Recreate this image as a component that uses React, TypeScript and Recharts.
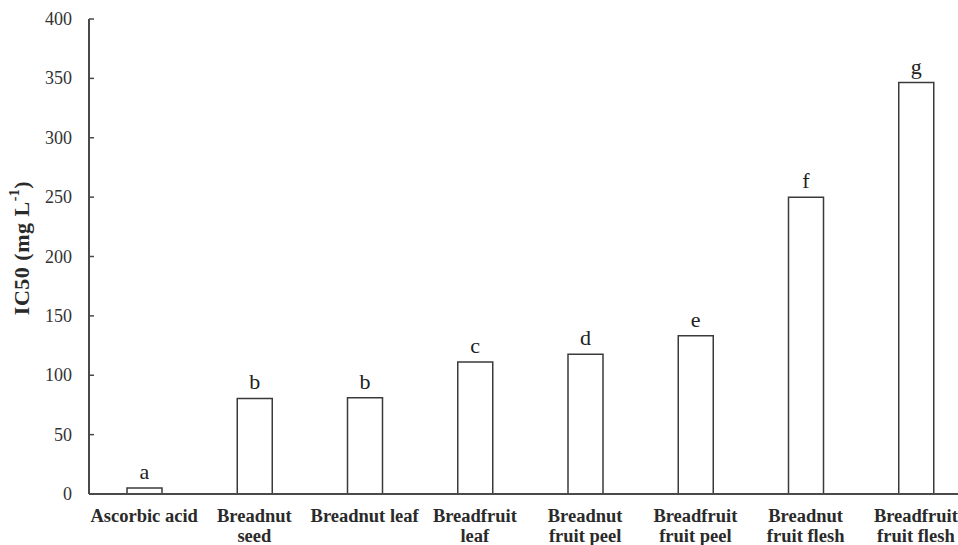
import React from "react";
import { BarChart, Bar, XAxis, YAxis, LabelList } from "recharts";

const categories = [
  "Ascorbic acid",
  "Breadnut\nseed",
  "Breadnut leaf",
  "Breadfruit\nleaf",
  "Breadnut\nfruit peel",
  "Breadfruit\nfruit peel",
  "Breadnut\nfruit flesh",
  "Breadfruit\nfruit flesh",
];
const ic50 = [5, 80.5, 81, 111.2, 117.6, 133.3, 250, 346.5];
const letters = ["a", "b", "b", "c", "d", "e", "f", "g"];
const yTicks = [0, 50, 100, 150, 200, 250, 300, 350, 400];

const data = categories.map((name, i) => ({
  name,
  value: ic50[i],
  letter: letters[i],
}));

const serif = "'Liberation Serif', 'Times New Roman', serif";
const axisColor = "#4a4a4a";

function XTick(props: any) {
  const { x, y, payload } = props;
  const lines = String(payload.value).split("\n");
  return (
    <text
      x={x}
      y={y}
      textAnchor="middle"
      fontFamily={serif}
      fontWeight="bold"
      fontSize={18.5}
      fill="#2a2a2a"
    >
      {lines.map((ln, i) => (
        <tspan key={i} x={x} dy={i === 0 ? 26 : 20}>
          {ln}
        </tspan>
      ))}
    </text>
  );
}

function YTick(props: any) {
  const { x, y, payload } = props;
  return (
    <g>
      <line x1={x} y1={y} x2={x + 5} y2={y} stroke={axisColor} strokeWidth={1.5} />
      <text
        x={x - 17}
        y={y}
        dy={6}
        textAnchor="end"
        fontFamily={serif}
        fontSize={18}
        fill="#333"
      >
        {payload.value}
      </text>
    </g>
  );
}

function YLabel() {
  return (
    <text
      x={21}
      y={248}
      transform="rotate(-90 21 248)"
      textAnchor="middle"
      dominantBaseline="central"
      fontFamily={serif}
      fontWeight="bold"
      fontSize={22}
      letterSpacing={0.5}
      fill="#2a2a2a"
    >
      IC50 (mg L
      <tspan dy={-7} fontSize={14}>
        -1
      </tspan>
      <tspan dy={7}>)</tspan>
    </text>
  );
}

export default function App() {
  return (
    <div
      style={{
        position: "fixed",
        left: 0,
        top: 0,
        width: 958,
        height: 545,
        overflow: "hidden",
        background: "#fff",
      }}
    >
      <BarChart
        width={972}
        height={545}
        data={data}
        barSize={35}
        margin={{ top: 19, right: 1, left: 0, bottom: 0 }}
      >
        <XAxis
          dataKey="name"
          height={51}
          interval={0}
          tickLine={false}
          tickSize={0}
          tick={<XTick />}
          axisLine={{ stroke: axisColor, strokeWidth: 2 }}
        />
        <YAxis
          width={89}
          domain={[0, 400]}
          ticks={yTicks}
          interval={0}
          tickLine={false}
          tickSize={0}
          tickMargin={0}
          tick={<YTick />}
          axisLine={{ stroke: axisColor, strokeWidth: 2 }}
          label={<YLabel />}
        />
        <Bar
          dataKey="value"
          fill="#fff"
          stroke="#3a3a3a"
          strokeWidth={1.5}
          isAnimationActive={false}
        >
          <LabelList
            dataKey="letter"
            position="top"
            offset={9}
            fontFamily={serif}
            fontSize={22}
            fill="#222"
          />
        </Bar>
      </BarChart>
    </div>
  );
}
